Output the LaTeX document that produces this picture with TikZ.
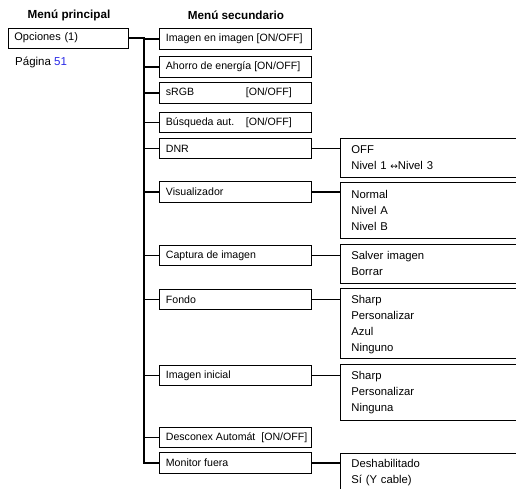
\documentclass[tikz,border=0pt]{standalone}
\usepackage{fontspec}
\setmainfont{Liberation Sans}
\newfontfamily\symfont{DejaVu Sans}
\definecolor{linkblue}{RGB}{40,40,230}
\newcommand{\subtext}[1]{\makebox[139pt][l]{#1}}
\begin{document}
\begin{tikzpicture}[x=1pt,y=-1pt,
  every node/.style={font=\fontsize{10.6}{16}\selectfont},
  head/.style={font=\fontsize{11.7}{13}\selectfont\bfseries, inner sep=0pt},
  mainbox/.style={draw, line width=0.8pt, minimum width=120pt, minimum height=20pt, inner xsep=6pt, text width=108pt, align=left, anchor=west, font=\fontsize{11}{13}\selectfont},
  subbox/.style={draw, line width=0.8pt, minimum width=152pt, minimum height=20.5pt, inner xsep=6.5pt, anchor=west},
  optbox/.style={draw, line width=0.8pt, minimum width=200pt, inner xsep=11pt, text width=178pt, align=left, anchor=north west, font=\fontsize{11.3}{16}\selectfont},
  conn/.style={line width=1.1pt}
]
\useasboundingbox (0,0) rectangle (516,489);
\clip (0,0) rectangle (516,489);

\node[head] (h1) at (69,15) {Menú principal};
\node[head] (h2) at (236,15) {Menú secundario};

\node[mainbox] (main) at (8,38) {Opciones (1)};
\node[anchor=west, inner sep=0pt, font=\fontsize{11.5}{13}\selectfont] (pag) at (15,62) {Página \textcolor{linkblue}{51}};

\coordinate (trunk) at (144,0);

\node[subbox] (s1) at (159,39) {\subtext{Imagen en imagen [ON/OFF]}};
\node[subbox] (s2) at (159,67) {\subtext{Ahorro de energía [ON/OFF]}};
\node[subbox] (s3) at (159,93) {\subtext{\makebox[80pt][l]{sRGB}[ON/OFF]}};
\node[subbox] (s4) at (159,122.5) {\subtext{\makebox[80pt][l]{Búsqueda aut.}[ON/OFF]}};
\node[subbox] (s5) at (159,148.5) {\subtext{DNR}};
\node[subbox] (s6) at (159,192) {\subtext{Visualizador}};
\node[subbox] (s7) at (159,255.5) {\subtext{Captura de imagen}};
\node[subbox] (s8) at (159,299.5) {\subtext{Fondo}};
\node[subbox] (s9) at (159,375.5) {\subtext{Imagen inicial}};
\node[subbox] (s10) at (159,437.5) {\subtext{Desconex Automát\ \ [ON/OFF]}};
\node[subbox] (s11) at (159,463) {\subtext{Monitor fuera}};

\node[optbox, minimum height=39pt] (o5) at (340,138) {OFF\\Nivel 1 {\symfont\fontsize{9}{9}\selectfont ↔}Nivel 3};
\node[optbox, minimum height=56pt] (o6) at (340,182) {Normal\\Nivel A\\Nivel B};
\node[optbox, minimum height=39pt] (o7) at (340,244) {Salver imagen\\Borrar};
\node[optbox, minimum height=70pt] (o8) at (340,288) {\rule{0pt}{10pt}Sharp\\Personalizar\\Azul\\Ninguno};
\node[optbox, minimum height=56pt] (o9) at (340,364) {Sharp\\Personalizar\\Ninguna};
\node[optbox, minimum height=39pt] (o11) at (340,453) {Deshabilitado\\Sí (Y cable)};

\draw[conn] (main.east) -- (main.east -| trunk) |- (s11.west);
\foreach \s in {s1,s2,s3,s4,s5,s6,s7,s8,s9,s10}
  \draw[conn] (\s.west -| trunk) -- (\s.west);
\foreach \s/\o in {s5/o5,s6/o6,s7/o7,s8/o8,s9/o9,s11/o11}
  \draw[conn] (\s.east) -- (\s.east -| \o.west);
\end{tikzpicture}
\end{document}
